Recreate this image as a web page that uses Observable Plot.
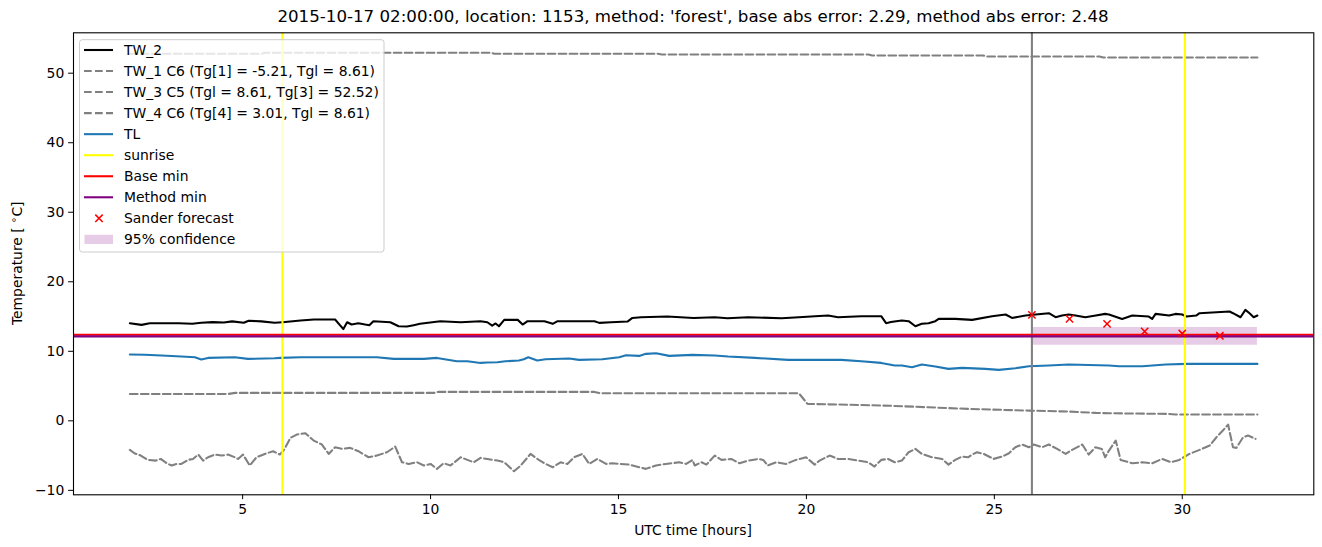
<!DOCTYPE html>
<html>
<head>
<meta charset="utf-8">
<script src="https://cdn.jsdelivr.net/npm/d3@7"></script>
<script src="https://cdn.jsdelivr.net/npm/@observablehq/plot@0.6"></script>
<style>
  body { margin: 0; background: #fff; font-family: "DejaVu Sans", sans-serif; }
  #title { position: relative; width: 1322px; height: 31px; }
  #title span { position: absolute; left: 693px; top: 7.2px; transform: translateX(-50%);
    white-space: nowrap; font-size: 16.67px; line-height: 20px; color: #000; }
  #chart svg { display: block; }
</style>
</head>
<body>
<div id="title"><span></span></div>
<div id="chart"></div>
<script>
// ---------- data ----------
const titleText = "2015-10-17 02:00:00, location: 1153, method: 'forest', base abs error: 2.29, method abs error: 2.48";
const xLabel = "UTC time [hours]";
const xTicks = [5, 10, 15, 20, 25, 30];
const yTicks = [-10, 0, 10, 20, 30, 40, 50];

// TW_2 (black solid): [hour, °C]
const tw2 = [[2.0,14.04],[2.31,13.8],[2.53,14.04],[3.3,14.04],[3.66,13.95],[3.9,14.1],[4.2,14.2],[4.5,14.15],[4.72,14.3],[5.03,14.1],[5.16,14.4],[5.5,14.3],[5.85,14.1],[6.06,14.18],[6.54,14.42],[6.9,14.57],[7.46,14.57],[7.6,13.7],[7.68,13.2],[7.78,14.18],[7.9,13.85],[8.08,14.04],[8.26,13.85],[8.37,13.75],[8.48,14.33],[8.93,14.18],[9.15,13.6],[9.37,13.56],[9.55,13.75],[9.72,13.95],[10.26,14.33],[10.8,14.18],[11.33,14.33],[11.51,14.18],[11.64,13.7],[11.73,14.0],[11.82,13.6],[11.96,14.52],[12.32,14.52],[12.45,13.85],[12.58,14.33],[13.03,14.33],[13.25,13.95],[13.38,14.33],[14.36,14.33],[14.49,14.09],[14.8,14.18],[15.24,14.28],[15.37,14.8],[15.6,14.9],[16.3,15.0],[17.0,14.8],[17.56,14.9],[17.9,14.75],[18.45,14.9],[19.34,14.76],[19.8,14.9],[20.23,15.05],[20.58,15.14],[20.84,14.9],[21.46,15.05],[21.99,15.05],[22.12,14.04],[22.25,14.2],[22.39,14.33],[22.54,14.43],[22.72,14.33],[22.9,13.6],[23.07,13.95],[23.25,14.04],[23.43,14.33],[23.52,14.66],[23.96,14.66],[24.41,14.52],[24.94,15.05],[25.3,15.29],[25.47,14.8],[25.83,15.14],[26.1,15.29],[26.45,15.48],[26.63,14.9],[26.8,15.14],[26.98,15.29],[27.16,15.14],[27.42,14.9],[27.7,15.14],[27.95,15.38],[28.05,15.29],[28.4,14.66],[28.67,15.14],[29.11,15.0],[29.2,14.66],[29.29,15.38],[29.65,15.14],[29.82,15.38],[30.0,15.29],[30.11,15.0],[30.37,15.14],[30.46,15.48],[30.91,15.62],[31.26,15.72],[31.35,15.48],[31.55,14.9],[31.68,15.96],[31.79,15.48],[31.9,14.9],[32.0,15.14]];

// TW_1 C6 (grey dashed, noisy around -5)
const tw1 = [[2.0,-4.18],[2.12,-4.66],[2.29,-5.0],[2.47,-5.62],[2.69,-5.72],[2.82,-5.48],[2.98,-6.1],[3.11,-6.43],[3.24,-6.2],[3.37,-6.2],[3.55,-5.62],[3.68,-5.48],[3.82,-4.85],[3.95,-5.72],[4.08,-5.24],[4.26,-4.85],[4.44,-5.0],[4.61,-4.85],[4.79,-5.24],[4.88,-5.48],[5.01,-4.85],[5.19,-6.43],[5.37,-5.24],[5.59,-4.76],[5.81,-4.37],[5.99,-4.85],[6.09,-4.28],[6.27,-2.46],[6.44,-1.98],[6.67,-1.78],[6.89,-2.84],[7.11,-3.41],[7.29,-4.76],[7.46,-3.8],[7.64,-4.04],[7.86,-3.89],[8.08,-4.37],[8.35,-5.24],[8.57,-5.0],[8.84,-4.52],[9.06,-3.7],[9.24,-5.96],[9.42,-6.2],[9.64,-5.96],[9.82,-6.43],[10.0,-6.2],[10.17,-6.91],[10.35,-6.1],[10.53,-6.43],[10.8,-5.24],[10.98,-5.62],[11.15,-5.96],[11.33,-5.33],[11.51,-5.48],[11.78,-5.72],[11.96,-5.96],[12.22,-7.25],[12.4,-6.43],[12.66,-4.76],[12.88,-5.62],[13.06,-6.2],[13.25,-6.68],[13.46,-5.96],[13.64,-6.2],[13.82,-5.24],[14.04,-4.76],[14.22,-6.2],[14.44,-5.48],[14.67,-6.2],[14.84,-6.1],[15.02,-6.2],[15.29,-6.3],[15.55,-6.68],[15.73,-6.91],[16.0,-6.43],[16.26,-6.2],[16.62,-5.96],[16.8,-6.2],[16.97,-5.62],[17.03,-6.43],[17.21,-5.96],[17.34,-6.3],[17.56,-5.0],[17.74,-5.62],[18.0,-5.48],[18.22,-6.1],[18.45,-5.72],[18.72,-5.48],[18.85,-5.62],[18.97,-6.43],[19.2,-5.96],[19.46,-6.2],[19.72,-5.62],[19.99,-5.24],[20.22,-6.3],[20.35,-5.72],[20.62,-5.0],[20.84,-5.48],[21.11,-5.48],[21.37,-5.72],[21.64,-5.96],[21.81,-6.58],[21.99,-5.62],[22.17,-5.48],[22.35,-5.96],[22.54,-5.72],[22.72,-4.52],[22.9,-4.04],[23.07,-4.76],[23.34,-5.24],[23.61,-5.48],[23.78,-6.3],[23.96,-5.62],[24.14,-5.14],[24.3,-5.24],[24.41,-4.85],[24.54,-4.52],[24.72,-4.76],[24.98,-5.48],[25.21,-5.14],[25.39,-4.66],[25.56,-3.8],[25.74,-3.41],[25.92,-3.8],[26.05,-3.41],[26.27,-3.8],[26.45,-3.41],[26.67,-4.04],[26.9,-4.76],[27.07,-4.18],[27.34,-3.41],[27.51,-4.85],[27.69,-3.8],[27.86,-4.04],[27.95,-5.24],[28.05,-4.28],[28.23,-2.84],[28.36,-5.62],[28.67,-6.1],[28.94,-5.96],[29.2,-6.1],[29.47,-5.48],[29.7,-5.96],[29.92,-5.62],[30.19,-4.76],[30.46,-4.18],[30.73,-3.56],[30.91,-2.36],[31.08,-1.4],[31.22,-0.54],[31.35,-3.8],[31.44,-3.89],[31.62,-2.36],[31.75,-2.12],[31.95,-2.6]];

// TW_3 C5 (grey dashed, ~52.5)
const tw3 = [[2.0,52.79],[5.5,52.79],[5.6,52.93],[11.6,52.93],[11.7,52.79],[16.05,52.79],[16.15,52.69],[21.65,52.69],[21.75,52.55],[24.7,52.55],[24.8,52.4],[27.8,52.4],[27.9,52.26],[32.0,52.26]];

// TW_4 C6 (grey dashed, ~4 -> 1)
const tw4 = [[2.0,3.87],[4.63,3.87],[4.8,4.02],[10.1,4.02],[10.2,4.16],[14.36,4.16],[14.5,3.97],[19.8,3.97],[20.03,2.43],[21.76,2.24],[22.35,2.14],[23.25,1.95],[24.32,1.71],[25.92,1.47],[26.98,1.33],[27.7,1.14],[28.05,1.09],[29.65,0.99],[29.82,0.9],[32.0,0.9]];

// TL (blue)
const tl = [[2.0,9.55],[2.4,9.5],[2.84,9.39],[3.37,9.24],[3.73,9.15],[3.9,8.81],[4.08,9.05],[4.79,9.15],[5.14,8.91],[5.85,9.0],[6.0,9.05],[6.54,9.15],[8.57,9.15],[9.02,8.91],[9.82,8.91],[10.17,9.05],[10.7,8.57],[10.98,8.57],[11.33,8.33],[11.51,8.38],[11.78,8.43],[11.99,8.57],[12.35,8.67],[12.48,8.86],[12.6,9.15],[12.84,8.67],[13.06,8.86],[13.69,8.96],[13.95,8.77],[14.57,8.86],[15.02,9.15],[15.2,9.44],[15.55,9.34],[15.73,9.63],[16.0,9.72],[16.35,9.34],[16.97,9.49],[17.56,9.39],[17.92,9.24],[18.63,9.05],[19.51,8.77],[20.93,8.77],[21.46,8.57],[21.99,8.33],[22.35,7.95],[22.54,7.95],[22.81,7.71],[23.07,8.09],[23.43,7.81],[23.78,7.47],[24.14,7.62],[24.76,7.47],[25.12,7.33],[25.56,7.57],[25.92,7.85],[26.45,7.95],[26.98,8.09],[28.05,7.95],[28.32,7.85],[28.94,7.85],[29.56,8.09],[30.11,8.19],[32.0,8.19]];

const sunrise = [6.06, 30.07];
const forecastStart = [26.0];
const baseMin = [12.37];
const methodMin = [12.15];
const sanderHours = [26, 27, 28, 29, 30, 31];
const sanderValues = [15.25, 14.67, 13.95, 12.85, 12.56, 12.23];
const confidence = [{x1: 26.0, x2: 32.0, lo: 10.87, hi: 13.42}];

const legendLabels = ["TW_2", "TW_1 C6 (Tg[1] = -5.21, Tgl = 8.61)", "TW_3 C5 (Tgl = 8.61, Tg[3] = 52.52)",
  "TW_4 C6 (Tg[4] = 3.01, Tgl = 8.61)", "TL", "sunrise", "Base min", "Method min", "Sander forecast", "95% confidence"];

// ---------- chart ----------
document.querySelector("#title span").textContent = titleText;

const sander = sanderHours.map((h, i) => ({h, v: sanderValues[i]}));
const LW = 2.08, DASH = "7.7,3.3";
const X = d => d[0], Y = d => d[1];

const chart = Plot.plot({
  width: 1322, height: 516,
  marginTop: 1.3, marginBottom: 52.7, marginLeft: 73, marginRight: 8.7,
  style: {fontFamily: "DejaVu Sans", fontSize: "13.9px", color: "black", background: "white"},
  x: {domain: [0.5, 33.5]},
  y: {domain: [-10.64, 55.81]},
  marks: [
    Plot.rect(confidence, {x1: "x1", x2: "x2", y1: "lo", y2: "hi", fill: "purple", fillOpacity: 0.2}),
    Plot.line(tw2, {x: X, y: Y, stroke: "black", strokeWidth: LW}),
    Plot.line(tw1, {x: X, y: Y, stroke: "gray", strokeWidth: LW, strokeDasharray: DASH}),
    Plot.line(tw3, {x: X, y: Y, stroke: "gray", strokeWidth: LW, strokeDasharray: DASH}),
    Plot.line(tw4, {x: X, y: Y, stroke: "gray", strokeWidth: LW, strokeDasharray: DASH}),
    Plot.line(tl, {x: X, y: Y, stroke: "#1f77b4", strokeWidth: LW}),
    Plot.ruleX(sunrise, {stroke: "yellow", strokeWidth: LW}),
    Plot.ruleX(forecastStart, {stroke: "gray", strokeWidth: LW}),
    Plot.ruleY(baseMin, {stroke: "red", strokeWidth: LW}),
    Plot.ruleY(methodMin, {stroke: "purple", strokeWidth: LW}),
    Plot.dot(sander, {x: "h", y: "v", symbol: "times", r: 3.4, stroke: "red", strokeWidth: 1.5}),
    Plot.frame({stroke: "black", strokeWidth: 1.1}),
    Plot.axisX({ticks: xTicks, tickSize: 4.86, tickPadding: 4.4, label: null, tickFormat: d => String(d)}),
    Plot.axisY({ticks: yTicks, tickSize: 4.86, tickPadding: 4.4, label: null, tickFormat: d => d < 0 ? "\u2212" + Math.abs(d) : String(d)})
  ]
});

const svg = d3.select(chart);
const ff = "DejaVu Sans";
// x label
svg.append("text").attr("x", 693).attr("y", 503.6).attr("text-anchor", "middle")
  .attr("font-family", ff).attr("font-size", 13.9).attr("fill", "black").text(xLabel);
// y label with superscript ring
const yl = svg.append("text").attr("transform", "translate(21.8,232.3) rotate(-90)")
  .attr("text-anchor", "middle").attr("font-family", ff).attr("font-size", 13.9).attr("fill", "black");
yl.append("tspan").text("Temperature [ ");
yl.append("tspan").attr("dy", -5).attr("font-size", 10).text("\u2218");
yl.append("tspan").attr("dy", 5).text("C]");

// legend
const lg = svg.append("g").attr("text-anchor", "start");
lg.append("rect").attr("x", 79.5).attr("y", 8.7).attr("width", 304.5).attr("height", 212.3).attr("rx", 2.8)
  .attr("fill", "white").attr("fill-opacity", 0.8).attr("stroke", "#cccccc").attr("stroke-width", 1);
const handles = [
  {c: "black"}, {c: "gray", d: DASH}, {c: "gray", d: DASH}, {c: "gray", d: DASH}, {c: "#1f77b4"},
  {c: "yellow"}, {c: "red"}, {c: "purple"}, {c: "red", m: true}, {c: "purple", p: true}
];
handles.forEach((h, i) => {
  const cy = 19 + i * 21.04;
  if (h.m) {
    const s = 3.7;
    lg.append("path").attr("d", `M${99 - s},${cy - s}L${99 + s},${cy + s}M${99 - s},${cy + s}L${99 + s},${cy - s}`)
      .attr("stroke", "red").attr("stroke-width", 1.5).attr("fill", "none");
  } else if (h.p) {
    lg.append("rect").attr("x", 84.5).attr("y", cy - 4.6).attr("width", 28.5).attr("height", 9.2)
      .attr("fill", "purple").attr("fill-opacity", 0.2);
  } else {
    const ln = lg.append("line").attr("x1", 84).attr("x2", 113).attr("y1", cy).attr("y2", cy)
      .attr("stroke", h.c).attr("stroke-width", LW);
    if (h.d) ln.attr("stroke-dasharray", h.d);
  }
  lg.append("text").attr("x", 124).attr("y", cy).attr("dy", "0.36em").attr("text-anchor", "start")
    .attr("font-family", ff).attr("font-size", 13.9).attr("fill", "black").text(legendLabels[i]);
});

document.getElementById("chart").appendChild(chart);
</script>
</body>
</html>
